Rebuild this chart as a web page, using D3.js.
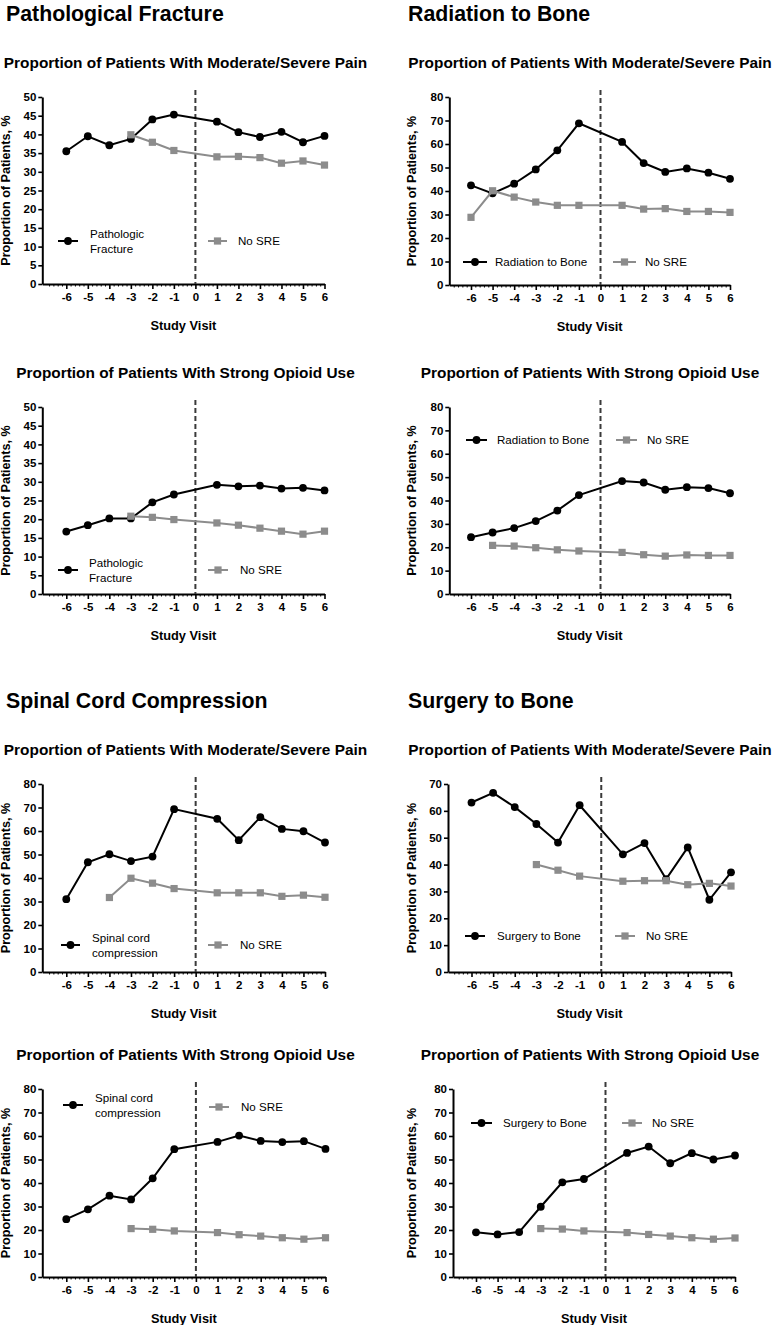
<!DOCTYPE html>
<html><head><meta charset="utf-8">
<script src="https://cdn.jsdelivr.net/npm/d3@7"></script>
<style>
body{margin:0;background:#fff}
svg{display:block}
text{font-family:"Liberation Sans",Arial,Helvetica,sans-serif;fill:#000}
</style>
</head><body>
<svg id="c" width="777" height="1325"></svg>
<script>
// ---------- DATA ----------
const visits = [-6,-5,-4,-3,-2,-1,1,2,3,4,5,6];
const xTickLabels = [-6,-5,-4,-3,-2,-1,0,1,2,3,4,5,6];

const pfPainSRE    = [35.5,39.5,37.1,38.8,44.0,45.3,43.4,40.6,39.3,40.7,37.9,39.6];
const pfPainNoSRE  = [null,null,null,39.9,37.9,35.7,34.0,34.1,33.8,32.3,32.9,31.8];
const rbPainSRE    = [42.4,39.0,43.1,49.2,57.3,68.8,60.9,51.9,48.1,49.6,47.8,45.2];
const rbPainNoSRE  = [28.8,40.1,37.4,35.3,33.9,33.9,33.9,32.3,32.5,31.3,31.3,30.9];
const pfOpioidSRE   = [16.7,18.4,20.2,20.2,24.5,26.6,29.2,28.8,29.0,28.2,28.4,27.7];
const pfOpioidNoSRE = [null,null,null,20.8,20.5,19.9,19.0,18.4,17.6,16.8,16.0,16.8];
const rbOpioidSRE   = [24.3,26.3,28.2,31.2,35.7,42.3,48.3,47.7,44.6,45.7,45.3,43.1];
const rbOpioidNoSRE = [null,20.8,20.5,19.8,18.9,18.4,17.8,16.8,16.2,16.7,16.5,16.5];
const sccPainSRE    = [31.0,46.7,50.1,47.2,49.1,69.3,65.2,56.1,65.9,60.9,59.9,55.1];
const sccPainNoSRE  = [null,null,31.7,39.9,37.8,35.5,33.7,33.7,33.7,32.2,32.7,31.8];
const sbPainSRE     = [63.1,66.7,61.4,55.1,48.2,62.1,43.8,48.0,34.6,46.4,26.9,37.1];
const sbPainNoSRE   = [null,null,null,40.0,37.9,35.7,33.8,34.0,34.0,32.5,33.0,32.0];
const sccOpioidSRE   = [24.6,28.8,34.6,33.0,42.0,54.4,57.5,60.2,57.9,57.4,57.8,54.5];
const sccOpioidNoSRE = [null,null,null,20.6,20.3,19.6,18.9,18.0,17.4,16.7,16.1,16.7];
const sbOpioidSRE    = [19.0,18.1,19.1,29.9,40.3,41.7,52.8,55.5,48.4,52.7,50.0,51.7];
const sbOpioidNoSRE  = [null,null,null,20.6,20.4,19.6,18.9,18.1,17.4,16.7,16.1,16.6];

const sectionTitles = ["Pathological Fracture","Radiation to Bone","Spinal Cord Compression","Surgery to Bone"];
const subtitlePain = "Proportion of Patients With Moderate/Severe Pain";
const subtitleOpioid = "Proportion of Patients With Strong Opioid Use";
const yAxisTitle = "Proportion of Patients, %";
const xAxisTitle = "Study Visit";
const noSreLabel = "No SRE";
const sreLabels = [["Pathologic","Fracture"],["Radiation to Bone"],["Spinal cord","compression"],["Surgery to Bone"]];
const yMaxes = [50,80,50,80,80,70,80,80];
const ySteps = [5,10,5,10,10,10,10,10];

// ---------- LAYOUT ----------
const panels = [
 {title:0, sub:subtitlePain, sre:pfPainSRE, no:pfPainNoSRE, lab:0, ax:42.3, xl:66.3, xr:324.5, top:97, bot:284, ly:241, bl:[58,78], bt:90, gl:[208,227], gt:238, gy:241},
 {title:1, sub:subtitlePain, sre:rbPainSRE, no:rbPainNoSRE, lab:1, ax:449.3, xl:471, xr:730, top:97, bot:285, ly:262, bl:[463,487], bt:495, gl:[613,636], gt:645, gy:262},
 {title:null, sub:subtitleOpioid, sre:pfOpioidSRE, no:pfOpioidNoSRE, lab:0, ax:42.3, xl:66.3, xr:324.5, top:407, bot:594, ly:570, bl:[58,78], bt:89, gl:[208,228], gt:240, gy:570},
 {title:null, sub:subtitleOpioid, sre:rbOpioidSRE, no:rbOpioidNoSRE, lab:1, ax:449.3, xl:471, xr:730, top:407, bot:594, ly:440, bl:[466,487], bt:497, gl:[616,637], gt:647, gy:440},
 {title:2, sub:subtitlePain, sre:sccPainSRE, no:sccPainNoSRE, lab:2, ax:42.3, xl:66.3, xr:325, top:784, bot:972, ly:945, bl:[61,80], bt:92, gl:[208,228], gt:240, gy:945},
 {title:3, sub:subtitlePain, sre:sbPainSRE, no:sbPainNoSRE, lab:3, ax:448, xl:471.5, xr:731, top:784, bot:972, ly:936, bl:[465,485], bt:497, gl:[615,635], gt:646, gy:936},
 {title:null, sub:subtitleOpioid, sre:sccOpioidSRE, no:sccOpioidNoSRE, lab:2, ax:42.3, xl:66.3, xr:325.5, top:1089, bot:1277, ly:1105, bl:[63,83], bt:95, gl:[209,229], gt:241, gy:1107},
 {title:null, sub:subtitleOpioid, sre:sbOpioidSRE, no:sbOpioidNoSRE, lab:3, ax:453, xl:476, xr:735, top:1089, bot:1277, ly:1123, bl:[471,492], bt:503, gl:[622,642], gt:652, gy:1123}
];

const BLACK = "#000";
const GRAY = "#8c8c8c";
const svg = d3.select("#c");

panels.forEach((p, i) => {
  const g = svg.append("g");
  const left = i % 2 === 0;
  const x = d3.scaleLinear().domain([-6, 6]).range([p.xl, p.xr]);
  const y = d3.scaleLinear().domain([0, yMaxes[i]]).range([p.bot, p.top]);

  // section title
  if (p.title !== null) {
    g.append("text").attr("x", left ? 6 : 408).attr("y", p.top - 76)
      .attr("font-size", 21.3).attr("font-weight", "bold").text(sectionTitles[p.title]);
  }
  // subtitle
  g.append("text").attr("x", left ? 185.5 : 590).attr("y", p.top - 29.5)
    .attr("text-anchor", "middle").attr("font-size", 15.4).attr("font-weight", "bold").text(p.sub);

  // y axis
  const yAxis = d3.axisLeft(y).tickValues(d3.range(0, yMaxes[i] + 0.001, ySteps[i]))
    .tickSize(4).tickSizeOuter(0).tickPadding(2).tickFormat(d => String(d));
  const ya = g.append("g").attr("transform", `translate(${p.ax},0)`).call(yAxis);
  ya.select(".domain").attr("stroke", BLACK).attr("stroke-width", 2);
  ya.selectAll(".tick line").attr("stroke", BLACK).attr("stroke-width", 1.6);
  ya.selectAll(".tick text").attr("font-size", 11.5).attr("font-weight", "bold")
    .attr("font-family", '"Liberation Sans",Arial,sans-serif').attr("fill", BLACK);

  // x axis (extends to the y axis)
  const xa0 = x.invert(p.ax);
  const xs = d3.scaleLinear().domain([xa0, 6]).range([p.ax, p.xr]);
  const minorVals = d3.range(-35, 31).map(k => k / 5).filter(v => v >= xa0 && Math.abs(v - Math.round(v)) > 1e-6);
  const xMinor = g.append("g").attr("transform", `translate(0,${p.bot})`)
    .call(d3.axisBottom(xs).tickValues(minorVals).tickSize(2.5).tickSizeOuter(0).tickFormat(""));
  xMinor.select(".domain").remove();
  xMinor.selectAll(".tick line").attr("stroke", BLACK).attr("stroke-width", 1);
  const xAxis = d3.axisBottom(xs).tickValues(xTickLabels).tickSize(5).tickSizeOuter(0).tickPadding(4)
    .tickFormat(d => String(d));
  const xa = g.append("g").attr("transform", `translate(0,${p.bot})`).call(xAxis);
  xa.select(".domain").attr("stroke", BLACK).attr("stroke-width", 2);
  xa.selectAll(".tick line").attr("stroke", BLACK).attr("stroke-width", 1.6);
  xa.selectAll(".tick text").attr("font-size", 11.5).attr("font-weight", "bold")
    .attr("font-family", '"Liberation Sans",Arial,sans-serif').attr("fill", BLACK);

  // axis titles
  g.append("text").attr("transform", `translate(${left ? 10 : 416},${(p.top + p.bot) / 2}) rotate(-90)`)
    .attr("text-anchor", "middle").attr("font-size", 12.6).attr("font-weight", "bold").text(yAxisTitle);
  g.append("text").attr("x", (p.ax + p.xr) / 2).attr("y", p.bot + 45.5)
    .attr("text-anchor", "middle").attr("font-size", 12.8).attr("font-weight", "bold").text(xAxisTitle);

  // dashed line at visit 0
  g.append("line").attr("x1", x(0)).attr("x2", x(0)).attr("y1", p.top - 7).attr("y2", p.bot)
    .attr("stroke", "#3a3a3a").attr("stroke-width", 2).attr("stroke-dasharray", "5,3");

  // series
  const sreData = visits.map((v, k) => ({v, val: p.sre[k]})).filter(d => d.val !== null);
  const noData = visits.map((v, k) => ({v, val: p.no[k]})).filter(d => d.val !== null);
  const line = d3.line().x(d => x(d.v)).y(d => y(d.val));

  g.append("path").datum(sreData).attr("d", line).attr("fill", "none")
    .attr("stroke", BLACK).attr("stroke-width", 2);
  g.selectAll(".pt").data(sreData).join("circle").attr("cx", d => x(d.v)).attr("cy", d => y(d.val))
    .attr("r", 3.9).attr("fill", BLACK);

  g.append("path").datum(noData).attr("d", line).attr("fill", "none")
    .attr("stroke", GRAY).attr("stroke-width", 2);
  g.selectAll(".sq").data(noData).join("rect").attr("x", d => x(d.v) - 3.6).attr("y", d => y(d.val) - 3.6)
    .attr("width", 7.2).attr("height", 7.2).attr("fill", GRAY);

  // legend
  g.append("line").attr("x1", p.bl[0]).attr("x2", p.bl[1]).attr("y1", p.ly).attr("y2", p.ly)
    .attr("stroke", BLACK).attr("stroke-width", 2);
  g.append("circle").attr("cx", (p.bl[0] + p.bl[1]) / 2).attr("cy", p.ly).attr("r", 3.9).attr("fill", BLACK);
  const labs = sreLabels[p.lab];
  labs.forEach((t, k) => {
    const yy = labs.length === 1 ? p.ly + 4 : p.ly - 3.5 + k * 15;
    g.append("text").attr("x", p.bt).attr("y", yy).attr("font-size", 11.6).text(t);
  });
  g.append("line").attr("x1", p.gl[0]).attr("x2", p.gl[1]).attr("y1", p.gy).attr("y2", p.gy)
    .attr("stroke", GRAY).attr("stroke-width", 2);
  g.append("rect").attr("x", (p.gl[0] + p.gl[1]) / 2 - 3.6).attr("y", p.gy - 3.6)
    .attr("width", 7.2).attr("height", 7.2).attr("fill", GRAY);
  g.append("text").attr("x", p.gt).attr("y", p.gy + 4).attr("font-size", 11.6).text(noSreLabel);
});
</script>
</body></html>
